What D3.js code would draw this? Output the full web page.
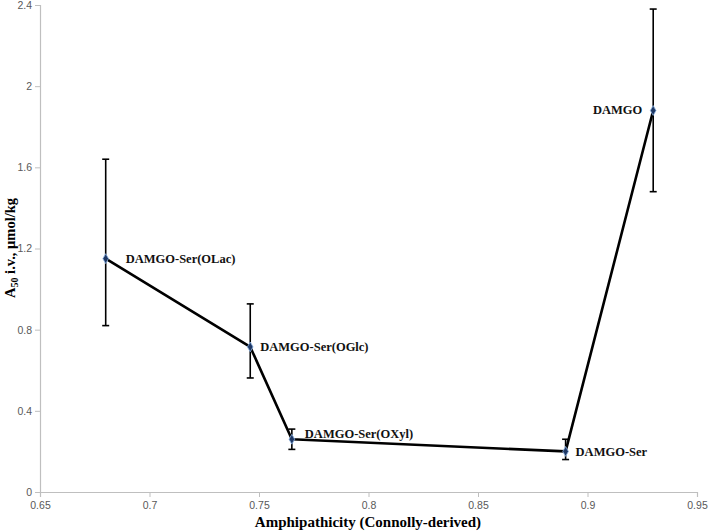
<!DOCTYPE html>
<html><head><meta charset="utf-8">
<script src="https://cdn.jsdelivr.net/npm/d3@7"></script>
<style>body{margin:0;background:#fff}svg{display:block}</style>
</head><body>
<svg id="c" width="708" height="532"></svg>
<script>
const names = ["DAMGO-Ser(OLac)", "DAMGO-Ser(OGlc)", "DAMGO-Ser(OXyl)", "DAMGO-Ser", "DAMGO"];
const amphipathicity = [0.68, 0.746, 0.765, 0.89, 0.93];
const a50 = [1.15, 0.715, 0.26, 0.20, 1.88];
const errLow = [0.82, 0.562, 0.21, 0.16, 1.48];
const errHigh = [1.64, 0.927, 0.31, 0.26, 2.38];
const xTicks = [0.65, 0.7, 0.75, 0.8, 0.85, 0.9, 0.95];
const yTicks = [0, 0.4, 0.8, 1.2, 1.6, 2, 2.4];

const svg = d3.select("#c");
const x = d3.scaleLinear().domain([0.65, 0.95]).range([40, 697]);
const y = d3.scaleLinear().domain([0, 2.4]).range([492, 5]);

const axisColor = "#bfbfbf";
const tickFont = "'Liberation Sans', Arial, sans-serif";
const serif = "'Liberation Serif', 'Times New Roman', serif";

const xAxis = svg.append("g").attr("transform", "translate(0,492)")
  .call(d3.axisBottom(x).tickValues(xTicks).tickSize(5).tickPadding(5).tickFormat(d => d3.format("")(d)));
const yAxis = svg.append("g").attr("transform", "translate(40,0)")
  .call(d3.axisLeft(y).tickValues(yTicks).tickSize(5).tickPadding(3).tickFormat(d => d3.format("")(d)));
[xAxis, yAxis].forEach(g => {
  g.select(".domain").attr("stroke", axisColor).attr("stroke-width", 1.2);
  g.selectAll(".tick line").attr("stroke", axisColor);
  g.selectAll(".tick text").attr("fill", "#595959").attr("font-family", tickFont).attr("font-size", 10.5);
});

// error bars
const eb = svg.append("g").attr("stroke", "#000").attr("stroke-width", 1.6);
names.forEach((n, i) => {
  const cx = x(amphipathicity[i]);
  eb.append("line").attr("x1", cx).attr("x2", cx).attr("y1", y(errLow[i])).attr("y2", y(errHigh[i]));
  eb.append("line").attr("x1", cx - 3.5).attr("x2", cx + 3.5).attr("y1", y(errLow[i])).attr("y2", y(errLow[i]));
  eb.append("line").attr("x1", cx - 3.5).attr("x2", cx + 3.5).attr("y1", y(errHigh[i])).attr("y2", y(errHigh[i]));
});

// line
const pts = names.map((n, i) => [amphipathicity[i], a50[i]]);
svg.append("path").datum(pts)
  .attr("d", d3.line().x(d => x(d[0])).y(d => y(d[1])))
  .attr("fill", "none").attr("stroke", "#000").attr("stroke-width", 2.6).attr("stroke-linejoin", "round");

// markers
svg.append("g").selectAll("path").data(pts).join("path")
  .attr("transform", d => `translate(${x(d[0])},${y(d[1])})`)
  .attr("d", d3.symbol(d3.symbolDiamond, 28))
  .attr("fill", "#1f3864").attr("stroke", "#8eb4e3").attr("stroke-width", 0.8);

// labels
const labelOffsets = [[20, 0], [10, 0], [13, -6], [10, 0], [-11, -1]];
svg.append("g").selectAll("text").data(names).join("text")
  .attr("x", (d, i) => x(amphipathicity[i]) + labelOffsets[i][0])
  .attr("y", (d, i) => y(a50[i]) + labelOffsets[i][1])
  .attr("dy", "0.35em")
  .attr("text-anchor", (d, i) => i === 4 ? "end" : "start")
  .attr("font-family", serif).attr("font-weight", "bold").attr("font-size", 12.5)
  .attr("fill", "#111")
  .text(d => d);

// axis titles
svg.append("text").attr("x", 368).attr("y", 527).attr("text-anchor", "middle")
  .attr("font-family", serif).attr("font-weight", "bold").attr("font-size", 15)
  .text("Amphipathicity (Connolly-derived)");

const yt = svg.append("text").attr("transform", "translate(15,248) rotate(-90)").attr("text-anchor", "middle")
  .attr("font-family", serif).attr("font-weight", "bold").attr("font-size", 14.5);
yt.append("tspan").text("A");
yt.append("tspan").attr("font-size", 10).attr("dy", 3).text("50");
yt.append("tspan").attr("dy", -3).text(" i.v., μmol/kg");
</script>
</body></html>
